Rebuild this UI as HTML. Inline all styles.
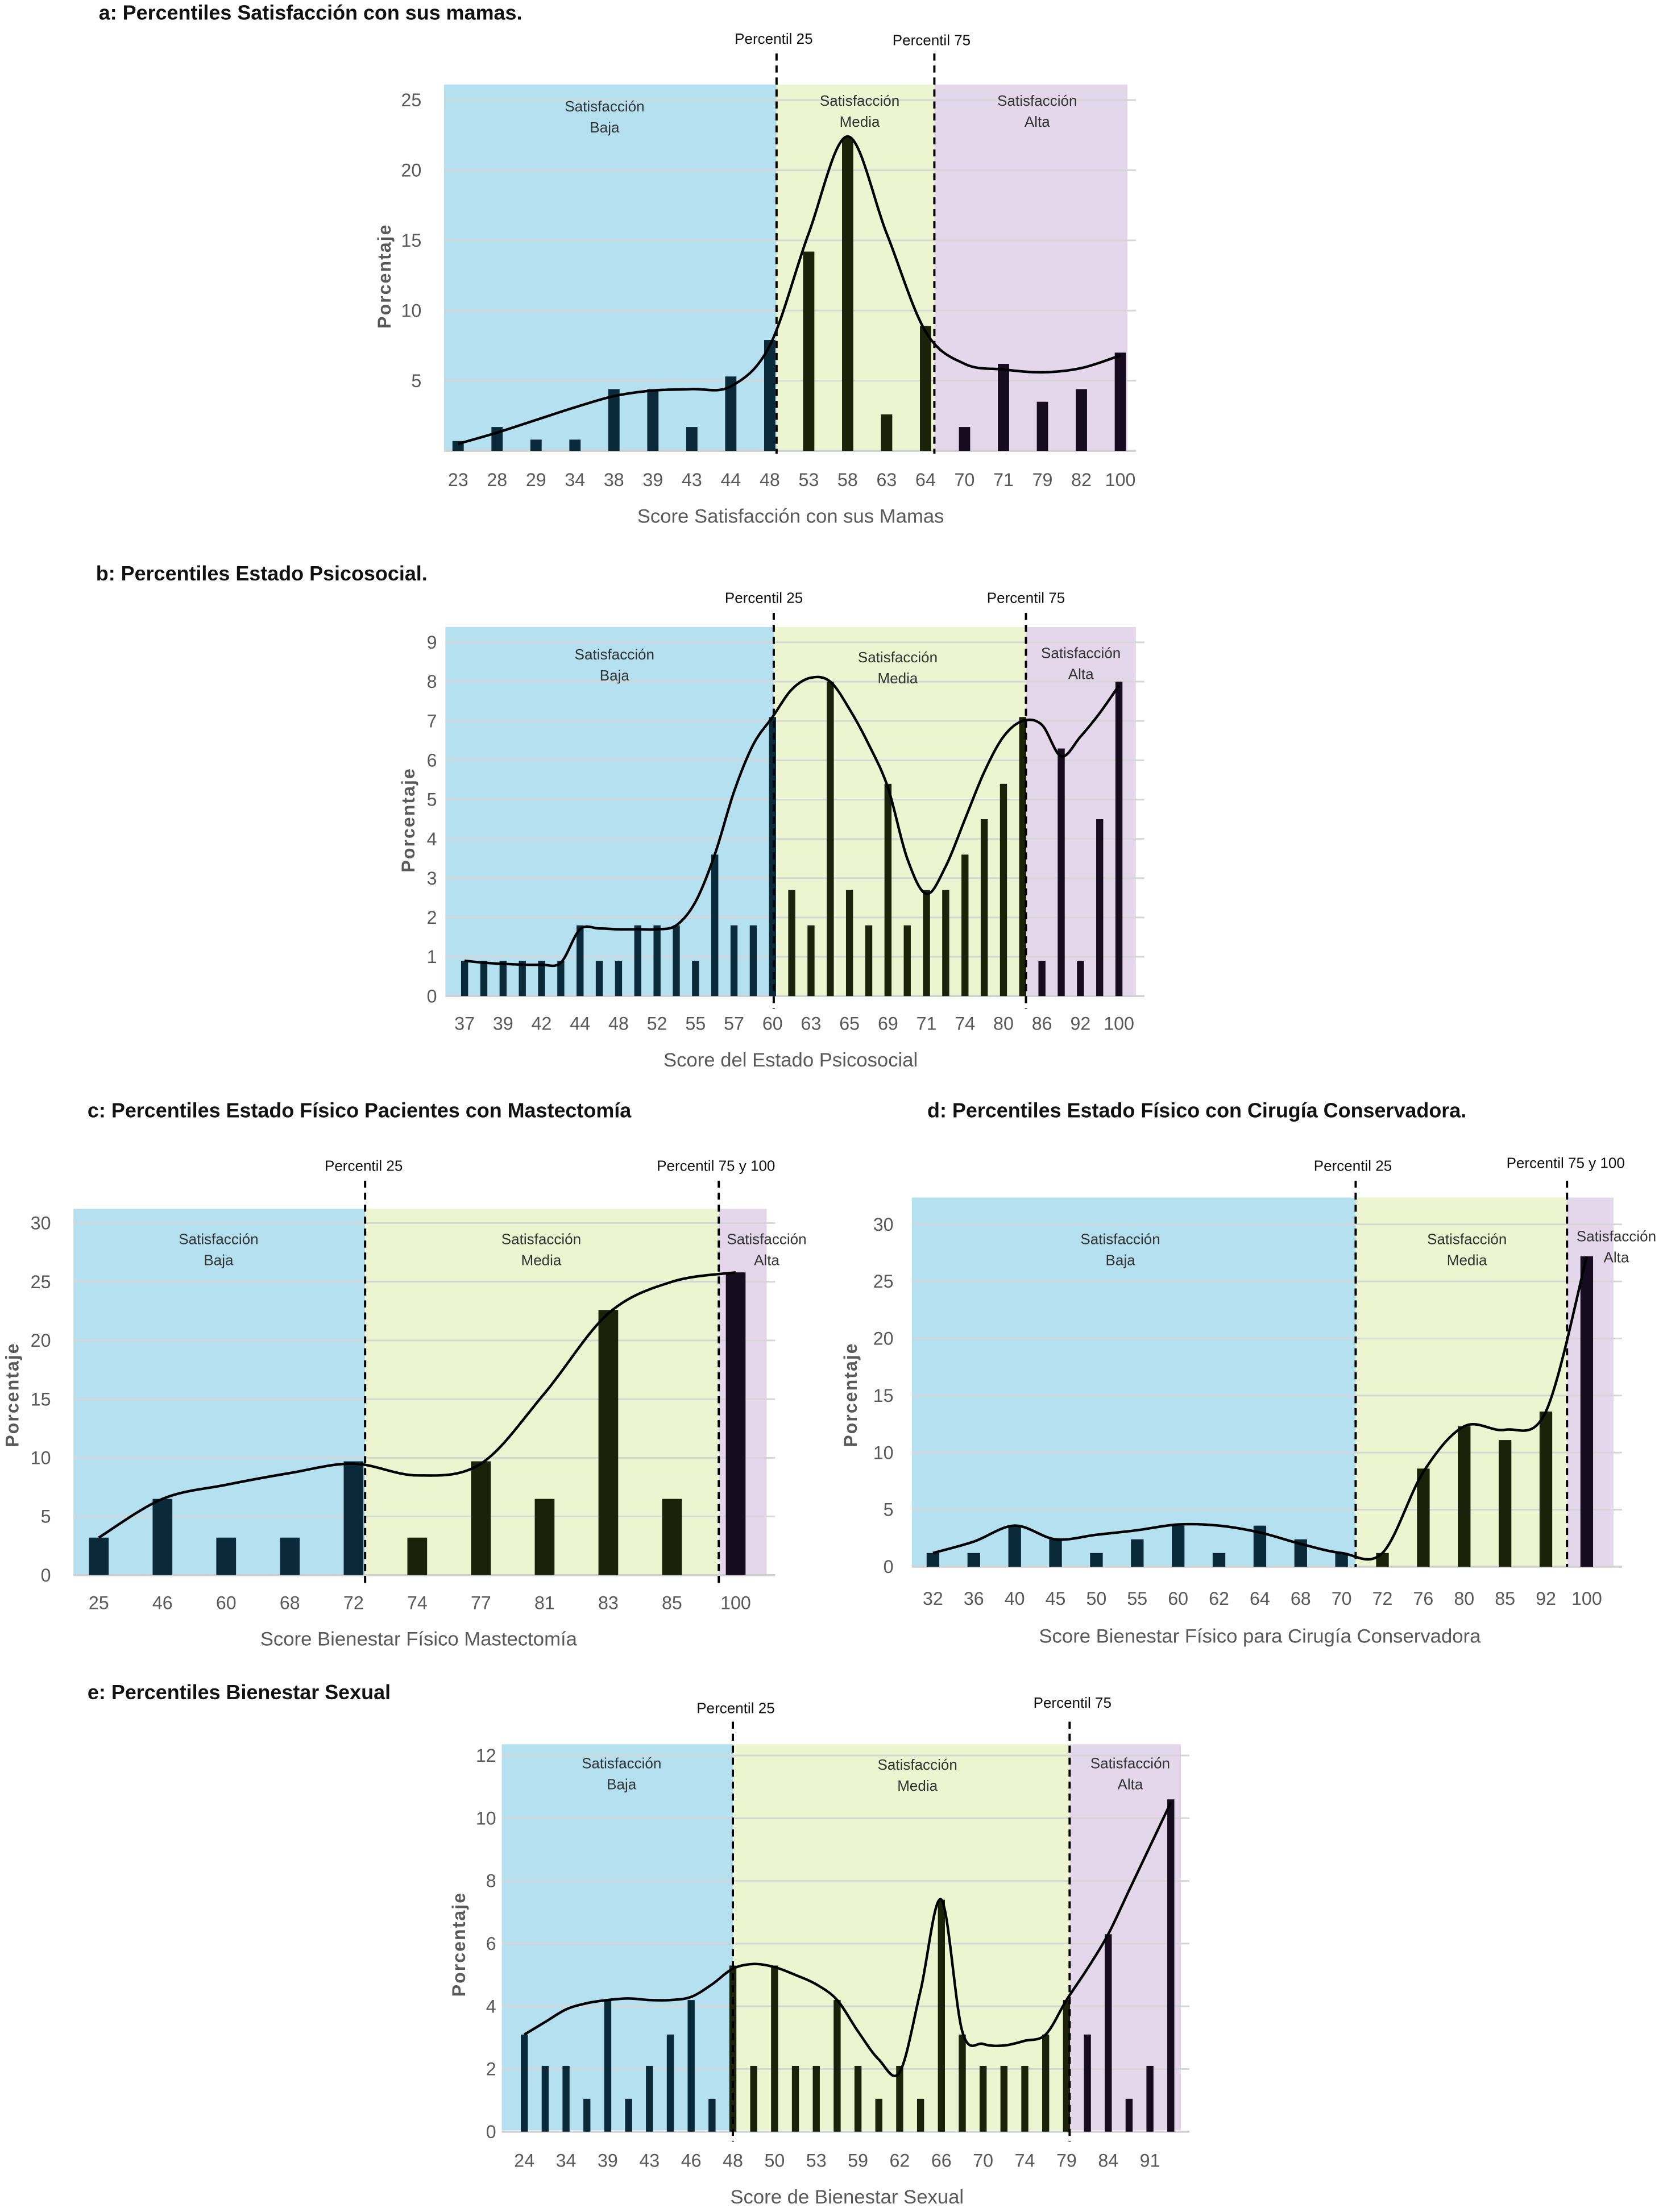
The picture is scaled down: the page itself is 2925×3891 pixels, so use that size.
<!DOCTYPE html>
<html><head><meta charset="utf-8"><style>
html,body{margin:0;padding:0;background:#fff;}
svg{display:block;font-family:"Liberation Sans",sans-serif;}
</style></head><body>
<svg id="root" width="2925" height="3891" viewBox="0 0 1180 1570" xmlns="http://www.w3.org/2000/svg"></svg>
<script>
// ---- Chart a data ----
const catsA = ["23","28","29","34","38","39","43","44","48","53","58","63","64","70","71","79","82","100"];
const valsA = [0.7,1.7,0.8,0.8,4.4,4.4,1.7,5.3,7.9,14.2,22.3,2.6,8.9,1.7,6.2,3.5,4.4,7.0];
const curveA = [0.5,1.3,2.2,3.1,3.9,4.3,4.4,4.6,7.5,15.5,22.4,15.5,8.5,6.2,5.8,5.6,5.9,6.8];
const ticksA = [5,10,15,20,25];
// ---- Chart b data ----
const catsB = ["37","38","39","40","42","43","44","46","48","50","52","53","55","56","57","58","60","61","63","64","65","67","69","70","71","72","74","77","80","82","86","90","92","96","100"];
const valsB = [0.9,0.9,0.9,0.9,0.9,0.9,1.8,0.9,0.9,1.8,1.8,1.8,0.9,3.6,1.8,1.8,7.1,2.7,1.8,8.0,2.7,1.8,5.4,1.8,2.7,2.7,3.6,4.5,5.4,7.1,0.9,6.3,0.9,4.5,8.0];
const curveB = [0.9,0.85,0.82,0.8,0.8,0.85,1.7,1.72,1.7,1.7,1.7,1.8,2.4,3.6,5.2,6.4,7.1,7.8,8.1,8.0,7.3,6.4,5.3,3.5,2.6,3.3,4.5,5.7,6.6,7.0,6.9,6.1,6.6,7.2,7.9];
const ticksB = [0,1,2,3,4,5,6,7,8,9];
// ---- Chart c data ----
const catsC = ["25","46","60","68","72","74","77","81","83","85","100"];
const valsC = [3.2,6.5,3.2,3.2,9.7,3.2,9.7,6.5,22.6,6.5,25.8];
const curveC = [3.2,6.5,7.7,8.7,9.5,8.5,9.5,15.5,22.3,25.0,25.8];
const ticksC = [0,5,10,15,20,25,30];
// ---- Chart d data ----
const catsD = ["32","36","40","45","50","55","60","62","64","68","70","72","76","80","85","92","100"];
const valsD = [1.2,1.2,3.6,2.4,1.2,2.4,3.6,1.2,3.6,2.4,1.2,1.2,8.6,12.3,11.1,13.6,27.2];
const curveD = [1.2,2.2,3.6,2.4,2.8,3.2,3.7,3.6,3.0,2.0,1.2,1.2,8.3,12.3,12.0,13.6,27.2];
const ticksD = [0,5,10,15,20,25,30];
// ---- Chart e data ----
const catsE = ["24","30","34","36","39","41","43","45","46","47","48","49","50","52","53","56","59","60","62","64","66","68","70","72","74","77","79","82","84","88","91","95"];
const valsE = [3.1,2.1,2.1,1.05,4.2,1.05,2.1,3.1,4.2,1.05,5.3,2.1,5.3,2.1,2.1,4.2,2.1,1.05,2.1,1.05,7.4,3.1,2.1,2.1,2.1,3.1,4.2,3.1,6.3,1.05,2.1,10.6];
const curveE = [3.1,3.5,3.9,4.1,4.2,4.25,4.2,4.2,4.3,4.7,5.2,5.35,5.25,5.0,4.7,4.2,3.2,2.3,1.9,4.5,7.4,3.2,2.8,2.75,2.9,3.1,4.2,5.2,6.3,7.7,9.1,10.5];
const ticksE = [0,2,4,6,8,10,12];

const NS="http://www.w3.org/2000/svg";
const root=document.getElementById('root');
function mk(tag,attrs,parent,text){const e=document.createElementNS(NS,tag);for(const k in attrs)e.setAttribute(k,attrs[k]);if(text!==undefined)e.textContent=text;(parent||root).appendChild(e);return e;}

function chart(id,cfg,cats,vals,curve,ticks){
  const g=mk('g',{});
  
  
  const n=cats.length;
  const xs=i=>cfg.xFirst+i*(cfg.xLast-cfg.xFirst)/(n-1);
  const ys=v=>cfg.y0-v*cfg.ppu;
  const bx=cfg.bg;
  // title
  const t=mk('text',{x:cfg.title[1],y:cfg.title[2],'font-size':14.5,'font-weight':'bold',fill:'#111'},g,cfg.title[0]);
  
  
  // zones
  const zc=['#b4e0f0','#ecf5cf','#e4d7ec'];
  const zn=['low-zone','mid-zone','high-zone'];
  const zb=[bx[0],cfg.p25,cfg.p75,bx[1]];
  for(let z=0;z<3;z++){
    const r=mk('rect',{x:zb[z],y:bx[2],width:zb[z+1]-zb[z],height:bx[3]-bx[2],fill:zc[z]},g);
    
    
  }
  // gridlines + ticks
  ticks.forEach(v=>{
    const l=mk('line',{x1:bx[0],x2:bx[1]+6,y1:ys(v),y2:ys(v),stroke:'#d6d6d6','stroke-width':1.2},g);
    
    
    const tl=mk('text',{x:cfg.yLabX,y:ys(v)+4.5,'font-size':13,fill:'#595959','text-anchor':'end'},g,String(v));
    
    
  });
  const base=mk('line',{x1:bx[0],x2:bx[1]+6,y1:cfg.y0,y2:cfg.y0,stroke:'#d0d0d0','stroke-width':1.5},g);
  
  
  // zone labels
  cfg.zoneLabels.forEach(zl=>{
    const a=mk('text',{x:zl[0],y:zl[1],'font-size':10.5,fill:'#333','text-anchor':'middle'},g,'Satisfacción');
    
    
    const b=mk('text',{x:zl[0],y:zl[1]+15,'font-size':10.5,fill:'#333','text-anchor':'middle'},g,zl[2]);
    
    
  });
  // bars
  const bc=['#0a2a3a','#1b2209','#170c1f'];
  cats.forEach((c,i)=>{
    const x=xs(i);
    const col=x<cfg.p25?bc[0]:(x<cfg.p75?bc[1]:bc[2]);
    const r=mk('rect',{x:x-cfg.bw/2,y:ys(vals[i]),width:cfg.bw,height:vals[i]*cfg.ppu,fill:col},g);
    
    
    if(i%cfg.every===0){
      const tl=mk('text',{x:x,y:cfg.xLabY,'font-size':13,fill:'#595959','text-anchor':'middle'},g,c);
      
      
    }
  });
  // curve (Catmull-Rom)
  const P=curve.map((v,i)=>[xs(i),ys(v)]);
  let d='M'+P[0][0]+','+P[0][1];
  for(let i=0;i<P.length-1;i++){
    const p0=P[Math.max(0,i-1)],p1=P[i],p2=P[i+1],p3=P[Math.min(P.length-1,i+2)];
    const c1=[p1[0]+(p2[0]-p0[0])/6,p1[1]+(p2[1]-p0[1])/6];
    const c2=[p2[0]-(p3[0]-p1[0])/6,p2[1]-(p3[1]-p1[1])/6];
    d+=' C'+c1[0]+','+c1[1]+' '+c2[0]+','+c2[1]+' '+p2[0]+','+p2[1];
  }
  const cv=mk('path',{d:d,fill:'none',stroke:'#000','stroke-width':1.8},g);
  
  
  // percentile lines
  [[cfg.p25,cfg.pl[0]],[cfg.p75,cfg.pl[1]]].forEach(pp=>{
    const l=mk('line',{x1:pp[0],x2:pp[0],y1:cfg.plY[0],y2:cfg.plY[1],stroke:'#000','stroke-width':1.6,'stroke-dasharray':'5,3.5'},g);
    
    
    const tx=mk('text',{x:pp[1][1],y:pp[1][2],'font-size':10.5,fill:'#111','text-anchor':'middle'},g,pp[1][0]);
    
    
  });
  // axis titles
  const xt=mk('text',{x:cfg.xTitle[1],y:cfg.xTitle[2],'font-size':14,fill:'#595959','text-anchor':'middle'},g,cfg.xTitle[0]);
  
  
  const yt=mk('text',{x:0,y:0,'font-size':13,'font-weight':'bold',fill:'#595959','text-anchor':'middle','letter-spacing':'0.8',transform:'translate('+cfg.yTitle[0]+','+cfg.yTitle[1]+') rotate(-90)'},g,'Porcentaje');
  
  
}

chart('a',{title:['a: Percentiles Satisfacción con sus mamas.',70,14],xFirst:325,xLast:795,y0:320,ppu:9.96,bg:[315,800,60,320],
  p25:551,p75:663,bw:8,every:1,yLabX:299,xLabY:345,xTitle:['Score Satisfacción con sus Mamas',561,371],yTitle:[277,196],
  zoneLabels:[[429,79,'Baja'],[610,75,'Media'],[736,75,'Alta']],pl:[['Percentil 25',549,31],['Percentil 75',661,32]],plY:[38,322]},catsA,valsA,curveA,ticksA);
chart('b',{title:['b: Percentiles Estado Psicosocial.',68,412],xFirst:329.6,xLast:794,y0:707,ppu:27.9,bg:[316,806,445,707],
  p25:549,p75:728,bw:5,every:2,yLabX:310,xLabY:731,xTitle:['Score del Estado Psicosocial',561,757],yTitle:[294,582],
  zoneLabels:[[436,468,'Baja'],[637,470,'Media'],[767,467,'Alta']],pl:[['Percentil 25',542,428],['Percentil 75',728,428]],plY:[435,716]},catsB,valsB,curveB,ticksB);
chart('c',{title:['c: Percentiles Estado Físico Pacientes con Mastectomía',62,793],xFirst:70,xLast:522,y0:1118,ppu:8.33,bg:[52,544,858,1118],
  p25:259,p75:510,bw:14,every:1,yLabX:36,xLabY:1142,xTitle:['Score Bienestar Físico Mastectomía',297,1168],yTitle:[13,990],
  zoneLabels:[[155,883,'Baja'],[384,883,'Media'],[544,883,'Alta']],pl:[['Percentil 25',258,831],['Percentil 75 y 100',508,831]],plY:[838,1126]},catsC,valsC,curveC,ticksC);
chart('d',{title:['d: Percentiles Estado Físico con Cirugía Conservadora.',658,793],xFirst:662,xLast:1126,y0:1112,ppu:8.1,bg:[647,1145,850,1112],
  p25:962,p75:1112,bw:9,every:1,yLabX:634,xLabY:1139,xTitle:['Score Bienestar Físico para Cirugía Conservadora',894,1166],yTitle:[608,990],
  zoneLabels:[[795,883,'Baja'],[1041,883,'Media'],[1147,881,'Alta']],pl:[['Percentil 25',960,831],['Percentil 75 y 100',1111,829]],plY:[838,1112]},catsD,valsD,curveD,ticksD);
chart('e',{title:['e: Percentiles Bienestar Sexual',62,1206],xFirst:372,xLast:830.8,y0:1513,ppu:22.25,bg:[356,838,1238,1512],
  p25:520,p75:759,bw:5,every:2,yLabX:352,xLabY:1538,xTitle:['Score de Bienestar Sexual',601,1564],yTitle:[330,1380],
  zoneLabels:[[441,1255,'Baja'],[651,1256,'Media'],[802,1255,'Alta']],pl:[['Percentil 25',522,1216],['Percentil 75',761,1212]],plY:[1222,1520]},catsE,valsE,curveE,ticksE);
</script>
</body></html>
